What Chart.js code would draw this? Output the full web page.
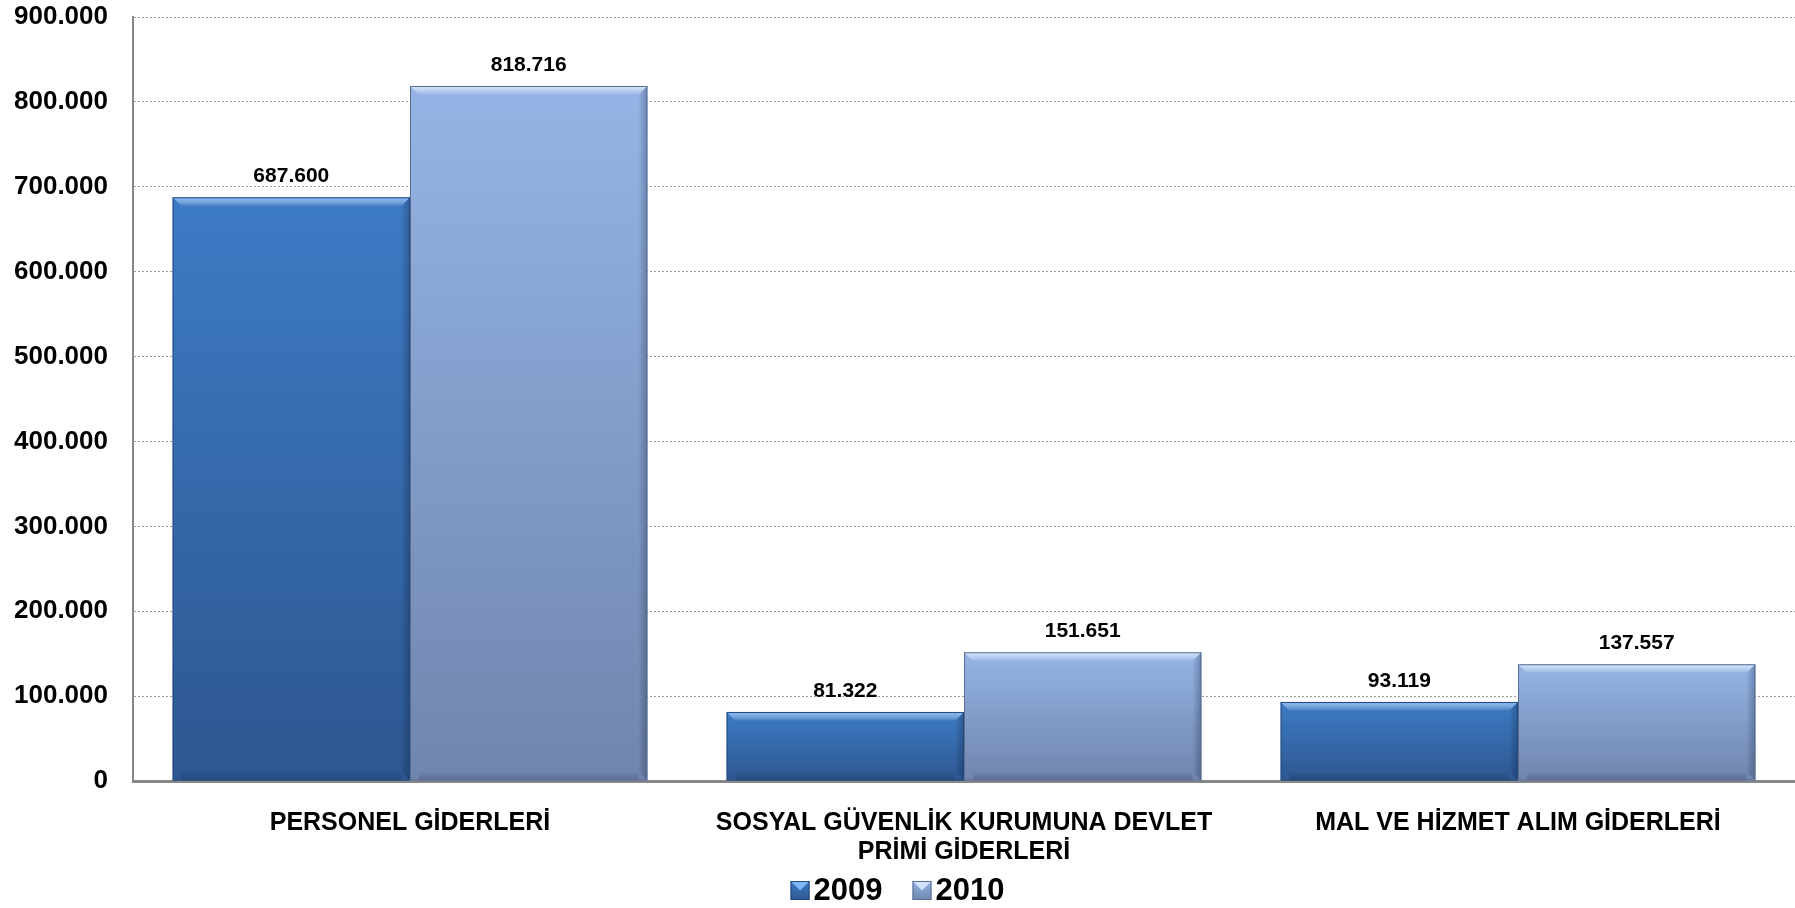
<!DOCTYPE html>
<html>
<head>
<meta charset="utf-8">
<script src="https://cdn.jsdelivr.net/npm/chart.js@4/dist/chart.umd.min.js"></script>
<style>
  html, body { margin: 0; padding: 0; background: #fff; }
  #wrap { width: 1795px; height: 908px; }
</style>
</head>
<body>
<div id="wrap"><canvas id="myChart"></canvas></div>
<script>
const kategoriler = [
    'PERSONEL GİDERLERİ',
    ['SOSYAL GÜVENLİK KURUMUNA DEVLET', 'PRİMİ GİDERLERİ'],
    'MAL VE HİZMET ALIM GİDERLERİ'
];
const yil2009 = [687600, 81322, 93119];
const yil2010 = [818716, 151651, 137557];
const yillar = ['2009', '2010'];
const yMax = 900000;
const yAdim = 100000;

const renkler = [
    { ust: '#3d7bc5', alt: '#2d5790', kenar: '#24487a', parlak: 'rgba(140,195,255,0.85)' },
    { ust: '#95b4e5', alt: '#6f85ad', kenar: '#5a6e92', parlak: 'rgba(215,232,255,0.9)' }
];

const yaziTipi = "'Liberation Sans', Arial, sans-serif";

function noktali(v) {
    return String(v).replace(/\B(?=(\d{3})+(?!\d))/g, '.');
}

function barRengi(i) {
    return function (context) {
        const r = renkler[i];
        if (context.type !== 'data') return r.ust;
        const chart = context.chart;
        if (!chart.chartArea) return r.ust;
        const y = chart.scales.y;
        const top = y.getPixelForValue(context.raw);
        const bottom = y.getPixelForValue(0);
        const g = chart.ctx.createLinearGradient(0, top, 0, bottom);
        g.addColorStop(0, r.ust);
        g.addColorStop(1, r.alt);
        return g;
    };
}

// soft bevel on bars + value labels on top
const bevel = {
    id: 'bevel',
    afterDatasetsDraw(chart) {
        const ctx = chart.ctx;
        chart.data.datasets.forEach((ds, i) => {
            const r = renkler[i];
            chart.getDatasetMeta(i).data.forEach((bar, j) => {
                const left = bar.x - bar.width / 2;
                const right = bar.x + bar.width / 2;
                const top = bar.y;
                const bottom = bar.base;
                const e = 9;
                ctx.save();
                let g = ctx.createLinearGradient(0, top, 0, top + e);
                g.addColorStop(0, r.parlak);
                g.addColorStop(1, 'rgba(255,255,255,0)');
                ctx.fillStyle = g;
                ctx.beginPath();
                ctx.moveTo(left, top);
                ctx.lineTo(right, top);
                ctx.lineTo(right - e, top + e);
                ctx.lineTo(left + e, top + e);
                ctx.closePath();
                ctx.fill();
                g = ctx.createLinearGradient(right - e, 0, right, 0);
                g.addColorStop(0, 'rgba(0,0,0,0)');
                g.addColorStop(1, 'rgba(0,20,60,0.28)');
                ctx.fillStyle = g;
                ctx.beginPath();
                ctx.moveTo(right, top);
                ctx.lineTo(right, bottom);
                ctx.lineTo(right - e, bottom - e);
                ctx.lineTo(right - e, top + e);
                ctx.closePath();
                ctx.fill();
                g = ctx.createLinearGradient(0, bottom - e, 0, bottom);
                g.addColorStop(0, 'rgba(0,0,0,0)');
                g.addColorStop(1, 'rgba(0,20,60,0.2)');
                ctx.fillStyle = g;
                ctx.fillRect(left + e, bottom - e, bar.width - 2 * e, e);
                ctx.strokeStyle = r.kenar;
                ctx.lineWidth = 1;
                ctx.strokeRect(left + 0.5, top + 0.5, bar.width - 1, bottom - top - 1);
                ctx.restore();

                ctx.save();
                ctx.fillStyle = '#000';
                ctx.font = 'bold 21px ' + yaziTipi;
                ctx.textAlign = 'center';
                ctx.textBaseline = 'alphabetic';
                ctx.fillText(noktali(ds.data[j]), bar.x, top - 15);
                ctx.restore();
            });
        });
    }
};

// legend drawn by hand: small bevelled box, tight gap to text
const altLejant = {
    id: 'altLejant',
    afterDraw(chart) {
        const ctx = chart.ctx;
        const kutu = 19, bosluk = 4, araBosluk = 30;
        ctx.save();
        ctx.font = 'bold 31px ' + yaziTipi;
        const genislikler = chart.data.datasets.map(ds => kutu + bosluk + ctx.measureText(ds.label).width);
        const toplam = genislikler.reduce((a, b) => a + b, 0) + araBosluk * (genislikler.length - 1);
        let x = (chart.width - toplam) / 2;
        const taban = chart.height - 8;
        chart.data.datasets.forEach((ds, i) => {
            const r = renkler[i];
            const ky = taban - kutu;
            const g = ctx.createLinearGradient(0, ky, 0, ky + kutu);
            g.addColorStop(0, r.ust);
            g.addColorStop(1, r.alt);
            ctx.fillStyle = g;
            ctx.fillRect(x, ky, kutu, kutu);
            ctx.fillStyle = r.parlak;
            ctx.beginPath();
            ctx.moveTo(x, ky); ctx.lineTo(x + kutu, ky); ctx.lineTo(x + kutu / 2, ky + kutu / 2);
            ctx.closePath();
            ctx.fill();
            ctx.strokeStyle = r.kenar;
            ctx.lineWidth = 1;
            ctx.strokeRect(x + 0.5, ky + 0.5, kutu - 1, kutu - 1);
            ctx.fillStyle = '#000';
            ctx.textAlign = 'left';
            ctx.textBaseline = 'alphabetic';
            ctx.fillText(ds.label, x + kutu + bosluk, taban);
            x += genislikler[i] + araBosluk;
        });
        ctx.restore();
    }
};

const chart = new Chart(document.getElementById('myChart'), {
    type: 'bar',
    data: {
        labels: kategoriler,
        datasets: [
            {
                label: yillar[0],
                data: yil2009,
                backgroundColor: barRengi(0),
                borderWidth: 0
            },
            {
                label: yillar[1],
                data: yil2010,
                backgroundColor: barRengi(1),
                borderWidth: 0
            }
        ]
    },
    plugins: [bevel, altLejant],
    options: {
        responsive: true,
        maintainAspectRatio: false,
        animation: false,
        categoryPercentage: 0.857,
        barPercentage: 1,
        layout: { padding: { top: 17, right: 0, left: 0, bottom: 41 } },
        plugins: {
            legend: { display: false },
            tooltip: { enabled: false },
            title: { display: false }
        },
        scales: {
            x: {
                grid: { display: false, drawTicks: false },
                border: { display: true, color: '#878787', width: 3 },
                ticks: {
                    color: '#000',
                    padding: 28,
                    maxRotation: 0,
                    autoSkip: false,
                    font: { family: yaziTipi, size: 25, weight: 'bold', lineHeight: 1.16 }
                },
                afterFit(scale) { scale.height = 86; }
            },
            y: {
                min: 0,
                max: yMax,
                ticks: {
                    stepSize: yAdim,
                    color: '#000',
                    padding: 25,
                    font: { family: yaziTipi, size: 26, weight: 'bold' },
                    callback: (v) => noktali(v)
                },
                grid: {
                    color: '#9a9a9a',
                    lineWidth: 1,
                    drawTicks: false
                },
                border: { display: true, color: '#878787', width: 2, dash: [2, 2] },
                afterFit(scale) {
                    scale.width = 133;
                    scale.paddingTop = 0;
                    scale.paddingBottom = 0;
                }
            }
        }
    }
});
</script>
</body>
</html>
